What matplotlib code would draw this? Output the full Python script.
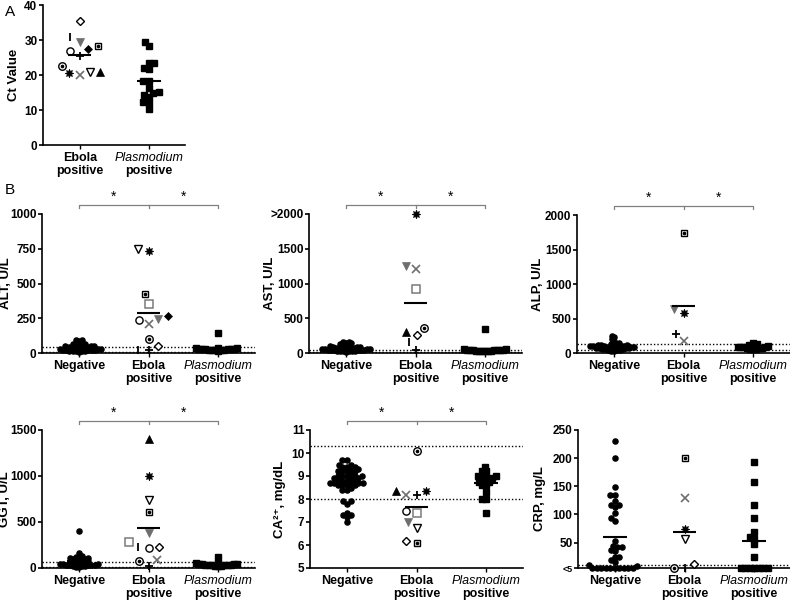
import numpy as np
import matplotlib
matplotlib.use('Agg')
import matplotlib.pyplot as plt

plt.rcParams['font.family'] = ['Liberation Sans', 'DejaVu Sans']

# ---------------- data ----------------
# one marker per Ebola patient, same order in every list
ebola_keys = ['diamond_open', 'bar', 'tri_down_grey', 'sq_dot', 'sq_grey', 'circle', 'plus',
              'diamond', 'circ_dot', 'tri_down_open', 'x_grey', 'burst', 'tri_up']

ct_ebola = [35.5, 30.8, 29.5, 28.4, None, 26.9, 25.5, 27.3, 22.7, 21.0, 20.0, 20.5, 21.0]
ct_plas = [29.5, 28.4, 23.5, 23.5, 22.1, 21.6, 18.4, 18.3, 16.2, 15.2, 14.8, 14.3, 13.8, 12.2, 12.1, 10.3]

alt_neg = [96, 95, 84, 65, 62, 60, 58, 55, 52, 50, 48, 45, 42, 40, 38, 36, 34, 32, 30, 28,
           26, 24, 22, 20, 19, 18, 17, 16, 15, 14, 12, 10]
alt_ebola = [53, 24, 247, 427, 355, 240, 19, 269, 101, 751, 209, 731, None]
alt_plas = [142, 38, 35, 33, 32, 30, 29, 28, 27, 26, 25, 24, 22, 20, 18, 15]

ast_neg = [165, 160, 150, 140, 130, 120, 110, 100, 95, 90, 85, 80, 78, 75, 72, 70, 68, 65,
           62, 60, 58, 55, 52, 50, 48, 45, 42, 40, 38, 35, 32, 30, 28, 25, 22, 20]
ast_ebola = [255, 159, 1253, None, 916, None, 39, None, 366, None, 1205, 2000, 304]
ast_plas = [340, 60, 55, 50, 48, 45, 42, 40, 38, 36, 35, 33, 30, 28, 25, 22]

alp_neg = [245, 225, 200, 170, 150, 135, 125, 120, 115, 112, 110, 108, 105, 100, 98, 95, 92, 90,
           88, 85, 82, 80, 78, 75, 72, 70, 68, 65, 60, 55, 50, 45, 40, 35, 30]
alp_ebola = [None, None, 639, 1734, None, None, 281, None, None, None, 170, 581, None]
alp_plas = [150, 130, 115, 105, 100, 95, 90, 88, 85, 80, 75, 72, 70, 65, 60, 55]

ggt_neg = [406, 163, 134, 120, 116, 110, 105, 100, 95, 90, 85, 80, 75, 70, 65, 60,
           55, 50, 48, 45, 42, 40, 38, 35, 32, 30, 28, 25, 22, 20, 15, 10]
ggt_ebola = [232, 225, 380, 612, 279, 217, 25, None, 80, 739, 91, 996, 1402]
ggt_plas = [123, 55, 50, 48, 45, 42, 40, 38, 36, 35, 33, 30, 28, 25, 22, 20]

ca_neg = [9.7, 9.7, 9.5, 9.5, 9.4, 9.4, 9.4, 9.3, 9.3, 9.2, 9.2, 9.2, 9.2, 9.1, 9.0, 9.0, 9.0,
          9.0, 9.0, 8.9, 8.9, 8.9, 8.8, 8.8, 8.8, 8.8, 8.7, 8.7, 8.7, 8.7, 8.7, 8.6, 8.6, 8.6,
          8.6, 8.5, 8.4, 8.4, 7.9, 7.9, 7.8, 7.4, 7.3, 7.3, 7.2, 7.0]
ca_ebola = [6.19, None, 7.0, 6.08, 7.39, 7.49, 8.18, None, 10.09, 6.76, 8.18, 8.35, 8.35]
ca_plas = [9.41, 9.22, 9.22, 9.02, 9.02, 9.02, 8.9, 8.9, 8.76, 8.76, 8.61, 8.61, 8.30, 7.99, 7.99, 7.39]

crp_neg = [231, 200, 148, 135, 135, 124, 116, 116, 114, 103, 93, 89, 53, 44, 42, 42, 37, 35,
           25, 25, 20, 16, 10, 9, 5, 5, 5, 5, 5, 5, 5, 5, 5, 5]
crp_ebola = [12, 5, None, 200, None, None, None, None, 5, 56, 129, 75, None]
crp_plas = [193, 158, 116, 93, 69, 60, 56, 48, 25, 5, 5, 5, 5, 5, 5, 5]

cat_labels = ['Negative', 'Ebola', 'Plasmodium']

GREY = '#6e6e6e'
MARKERS = {
    'diamond_open': dict(marker='D', ms=3.8, mfc='white', mec='black', mew=1.0),
    'bar': dict(marker='|', ms=5.5, mec='black', mew=1.3),
    'tri_down_grey': dict(marker='v', ms=5.4, mfc=GREY, mec=GREY, mew=0.5),
    'sq_dot': dict(marker='s', ms=5, mfc='white', mec='black', mew=1.0),
    'sq_grey': dict(marker='s', ms=5.4, mfc='white', mec='#7a7a7a', mew=1.1),
    'circle': dict(marker='o', ms=5.2, mfc='white', mec='black', mew=1.0),
    'plus': dict(marker='+', ms=6, mec='black', mew=1.3),
    'diamond': dict(marker='D', ms=3.8, mfc='black', mec='black', mew=0.5),
    'circ_dot': dict(marker='o', ms=5.4, mfc='white', mec='black', mew=1.0),
    'tri_down_open': dict(marker='v', ms=5.6, mfc='white', mec='black', mew=1.0),
    'x_grey': dict(marker='x', ms=5.4, mec=GREY, mew=1.2),
    'burst': dict(marker=(8, 1, 0), ms=6.2, mfc='black', mec='black', mew=0.5),
    'tri_up': dict(marker='^', ms=5.4, mfc='black', mec='black', mew=0.5),
}

FIG_W, FIG_H = 790, 604
fig = plt.figure(figsize=(FIG_W / 100, FIG_H / 100), dpi=100)


def make_axes(left, top, width, height):
    return fig.add_axes([left / FIG_W, 1 - (top + height) / FIG_H, width / FIG_W, height / FIG_H])


def swarm(ax, xc, vals, d):
    # greedy beeswarm in pixel space, returns x in data units
    vals = np.asarray(vals, dtype=float)
    pts = ax.transData.transform(np.column_stack([np.full(len(vals), xc), vals]))
    cx = pts[0, 0]
    placed = []
    xs = np.empty(len(vals))
    for i in np.argsort(vals, kind='stable'):
        py = pts[i, 1]
        near = [(qx, qy) for qx, qy in placed if abs(qy - py) < d]
        cands = [cx]
        for qx, qy in near:
            dx = np.sqrt(d * d - (qy - py) ** 2)
            cands += [qx - dx, qx + dx]
        cands.sort(key=lambda c: abs(c - cx))
        for c in cands:
            if all((c - qx) ** 2 + (py - qy) ** 2 >= d * d - 1e-6 for qx, qy in near):
                break
        placed.append((c, py))
        xs[i] = c
    return ax.transData.inverted().transform(np.column_stack([xs, pts[:, 1]]))[:, 0]


def mean_line(ax, xc, vals):
    m = np.mean(vals)
    ax.plot([xc - 0.17, xc + 0.17], [m, m], color='black', lw=1.5, zorder=6, solid_capstyle='butt')


def setup(ax, xlim, ylim, yticks, yticklabels, ylabel, left, width, label_px):
    ax.set_xlim(*xlim)
    ax.set_ylim(*ylim)
    for s in ['top', 'right']:
        ax.spines[s].set_visible(False)
    for s in ['left', 'bottom']:
        ax.spines[s].set_linewidth(1.2)
    ax.set_yticks(yticks)
    ax.set_yticklabels(yticklabels, fontweight='bold', fontsize=8.5)
    ax.tick_params(axis='y', length=3, width=1.2, pad=1)
    ax.tick_params(axis='x', length=3, width=1.0, labelbottom=False)
    ax.set_ylabel(ylabel, fontweight='bold', fontsize=9.5)
    ax.yaxis.set_label_coords((label_px + 8 - left) / width, 0.5)


def cat_text(ax, xs, labels):
    trans = ax.get_xaxis_transform()
    for x, lab in zip(xs, labels):
        style = dict(fontstyle='italic') if lab == 'Plasmodium' else dict(fontweight='bold')
        ax.annotate(lab, (x, 0), xycoords=trans, xytext=(0, -5), textcoords='offset points',
                    ha='center', va='top', fontsize=9, **style)
        if lab != 'Negative':
            ax.annotate('positive', (x, 0), xycoords=trans, xytext=(0, -14.5), textcoords='offset points',
                        ha='center', va='top', fontsize=9, fontweight='bold')


def bracket(ax, h_px):
    trans = ax.get_xaxis_transform()
    y = 1 + 9 / h_px
    t = 3 / h_px
    kw = dict(transform=trans, clip_on=False, color='#808080', lw=0.9)
    ax.plot([0, 0, 2, 2], [y - t, y, y, y - t], **kw)
    ax.plot([1, 1], [y, y - t], **kw)
    for xs in [0.5, 1.5]:
        ax.text(xs, y + 1 / h_px, '*', transform=trans, ha='center', va='bottom', fontsize=10)


def draw_ebola(ax, xc, vals):
    keys = [k for k, v in zip(ebola_keys, vals) if v is not None]
    v = [v for v in vals if v is not None]
    xs = swarm(ax, xc, v, 10.5)
    for k, x, y in zip(keys, xs, v):
        ax.plot([x], [y], ls='none', clip_on=False, zorder=5, **MARKERS[k])
        if k in ('sq_dot', 'circ_dot'):
            ax.plot([x], [y], ls='none', marker='o', ms=1.6, color='black', clip_on=False, zorder=5)
    mean_line(ax, xc, v)


def draw_group(ax, xc, vals, marker, d):
    xs = swarm(ax, xc, vals, d)
    ax.plot(xs, vals, ls='none', marker=marker, ms=3.7, color='black', clip_on=False, zorder=4)
    mean_line(ax, xc, vals)


XL = (-0.53, 2.53)


def panel_b(left, top, h, ylim, yticks, yticklabels, ylabel, label_px, neg, ebo, plas, refs, sig, d):
    ax = make_axes(left, top, 213, h)
    setup(ax, XL, ylim, yticks, yticklabels, ylabel, left, 213, label_px)
    ax.set_xticks([0, 1, 2])
    for r in refs:
        ax.axhline(r, ls=(0, (1, 1.5)), color='black', lw=1.0, zorder=1)
    draw_group(ax, 0, neg, 'o', d)
    draw_ebola(ax, 1, ebo)
    draw_group(ax, 2, plas, 's', d)
    cat_text(ax, [0, 1, 2], cat_labels)
    if sig:
        bracket(ax, h)
    return ax


# ---------------- panel A ----------------
axA = make_axes(43, 5, 142, 140)
setup(axA, (-0.53, 1.52), (0, 40), [0, 10, 20, 30, 40], ['0', '10', '20', '30', '40'], 'Ct Value',
      43, 142, 12)
axA.set_xticks([0, 1])
draw_ebola(axA, 0, ct_ebola)
draw_group(axA, 1, ct_plas, 's', 5.5)
cat_text(axA, [0, 1], cat_labels[1:])
fig.text(5 / FIG_W, 1 - 12 / FIG_H, 'A', fontsize=11, va='center', ha='left')
fig.text(5 / FIG_W, 1 - 190 / FIG_H, 'B', fontsize=11, va='center', ha='left')

# ---------------- panel B ----------------
panel_b(42, 214, 139, (0, 1000), [0, 250, 500, 750, 1000], ['0', '250', '500', '750', '1000'],
        'ALT, U/L', 4, alt_neg, alt_ebola, alt_plas, [10, 45], True, 3.2)
panel_b(309, 214, 139, (0, 2000), [0, 500, 1000, 1500, 2000], ['0', '500', '1000', '1500', '>2000'],
        'AST, U/L', 268, ast_neg, ast_ebola, ast_plas, [10, 40], True, 3.0)
panel_b(577, 215, 138, (0, 2000), [0, 500, 1000, 1500, 2000], ['0', '500', '1000', '1500', '2000'],
        'ALP, U/L', 536, alp_neg, alp_ebola, alp_plas, [40, 130], True, 3.0)
panel_b(42, 430, 138, (0, 1500), [0, 500, 1000, 1500], ['0', '500', '1000', '1500'],
        'GGT, U/L', 3, ggt_neg, ggt_ebola, ggt_plas, [8, 61], True, 3.2)
panel_b(310, 430, 138, (5, 11), [5, 6, 7, 8, 9, 10, 11], ['5', '6', '7', '8', '9', '10', '11'],
        'CA²⁺, mg/dL', 278, ca_neg, ca_ebola, ca_plas, [8.0, 10.3], True, 4.5)
axC = panel_b(578, 430, 138, (5, 250), [5, 50, 100, 150, 200, 250], ['<5', '50', '100', '150', '200', '250'],
              'CRP, mg/L', 538, crp_neg, crp_ebola, crp_plas, [10], False, 4.5)
axC.get_yticklabels()[0].set_fontsize(6.5)

fig.savefig('out.png', dpi=100)
